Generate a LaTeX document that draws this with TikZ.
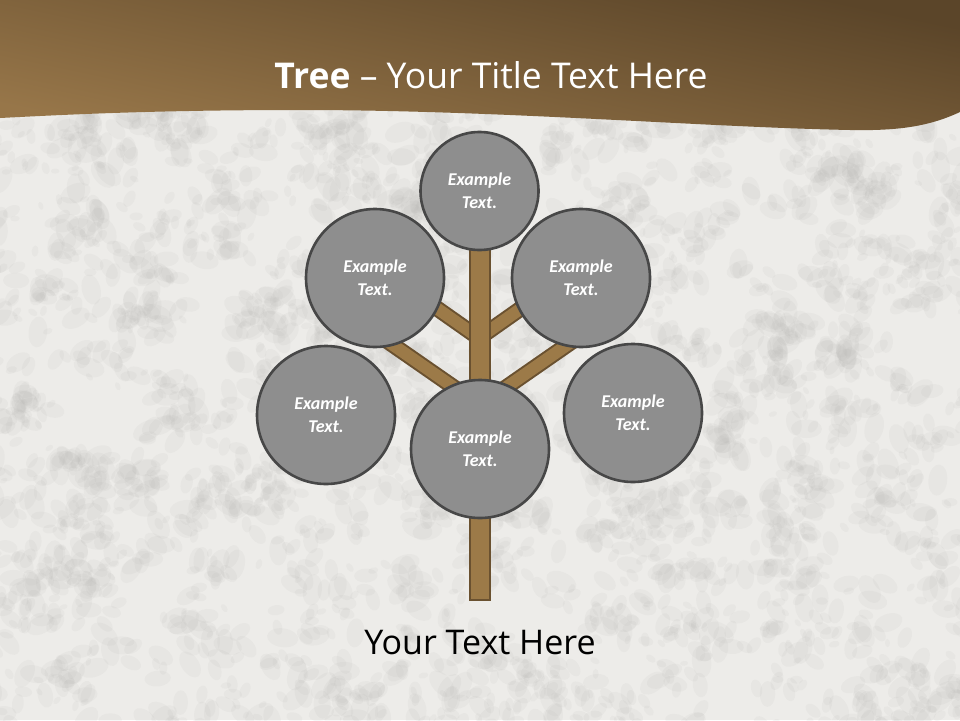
\documentclass[tikz,border=0pt]{standalone}
\usepackage{fontspec}
\newfontfamily\titlefont{Open Sans}
\newfontfamily\labelfont{Carlito}
\definecolor{bgbase}{HTML}{EDECE9}
\definecolor{blot}{HTML}{B5B4B1}
\definecolor{hdrtop}{HTML}{5B4529}
\definecolor{hdrbot}{HTML}{977649}
\definecolor{wood}{HTML}{9C7A48}
\definecolor{woodline}{HTML}{6A5130}
\definecolor{ballfill}{HTML}{8E8E8E}
\definecolor{ballline}{HTML}{474747}
\tikzset{
  ball/.style={circle, fill=ballfill, draw=ballline, line width=2.6pt, inner sep=0pt,
    font=\labelfont\bfseries\itshape\fontsize{18}{23}\selectfont, text=white, align=center},
  smallball/.style={ball, minimum size=118pt},
  bigball/.style={ball, minimum size=138pt},
  branchout/.style={draw=woodline, line width=16pt},
  branchin/.style={draw=wood, line width=12pt},
}
\begin{document}
\begin{tikzpicture}[x=1pt,y=-1pt]
\useasboundingbox (0,0) rectangle (960,720);
% background granite
\fill[bgbase] (0,0) rectangle (960,720);
\pgfmathsetseed{11}
\begin{scope}
\clip (0,0) rectangle (960,720);
\foreach \i in {1,...,650} {
  \pgfmathsetmacro\cx{rnd*1000-20}
  \pgfmathsetmacro\cy{95+rnd*650}
  \foreach \j in {1,...,5} {
    \pgfmathsetmacro\xx{\cx+(rnd-0.5)*44}
    \pgfmathsetmacro\yy{\cy+(rnd-0.5)*30}
    \pgfmathsetmacro\rr{4+rnd*12}
    \pgfmathsetmacro\aa{rnd*180}
    \fill[blot, opacity=0.10, rotate around={\aa:(\xx,\yy)}] (\xx,\yy) ellipse[x radius=\rr, y radius=0.6*\rr];
  }
}
\end{scope}
% header
\shade[top color=hdrtop, bottom color=hdrbot, shading angle=-12]
  (0,0) -- (960,0) -- (960,112) .. controls (930,126) and (900,131) .. (850,130)
  .. controls (700,127) and (500,110) .. (300,110)
  .. controls (150,110) and (60,115) .. (0,118) -- cycle;
\node[font=\titlefont\fontsize{35.5}{40}\selectfont, text=white] (title) at (491,75)
  {\textbf{Tree} – Your Title Text Here};
% branches
\coordinate (b1s) at (475,402); \coordinate (b1e) at (380,336);
\coordinate (b2s) at (485,402); \coordinate (b2e) at (580,336);
\coordinate (b3s) at (479,338); \coordinate (b3e) at (425,300);
\coordinate (b4s) at (479,338); \coordinate (b4e) at (533,300);
\foreach \s/\e in {b1s/b1e,b2s/b2e,b3s/b3e,b4s/b4e} {
  \draw[branchout] (\s) -- (\e);
}
\foreach \s/\e in {b1s/b1e,b2s/b2e,b3s/b3e,b4s/b4e} {
  \draw[branchin] (\s) -- (\e);
}
% trunk
\coordinate (trunktop) at (469.5,240);
\coordinate (trunkbot) at (489.5,600);
\draw[fill=wood, draw=woodline, line width=2pt] (trunktop) rectangle (trunkbot);
% circles
\node[smallball] (top) at (479.5,191) {Example\\Text.};
\node[bigball] (ul) at (375,278) {Example\\Text.};
\node[bigball] (ur) at (581,278) {Example\\Text.};
\node[bigball] (ll) at (326,415) {Example\\Text.};
\node[bigball] (lr) at (633,413) {Example\\Text.};
\node[bigball] (bc) at (480,449) {Example\\Text.};
% bottom text
\node[font=\titlefont\fontsize{34}{40}\selectfont, text=black] (caption) at (480,643) {Your Text Here};
\end{tikzpicture}
\end{document}
